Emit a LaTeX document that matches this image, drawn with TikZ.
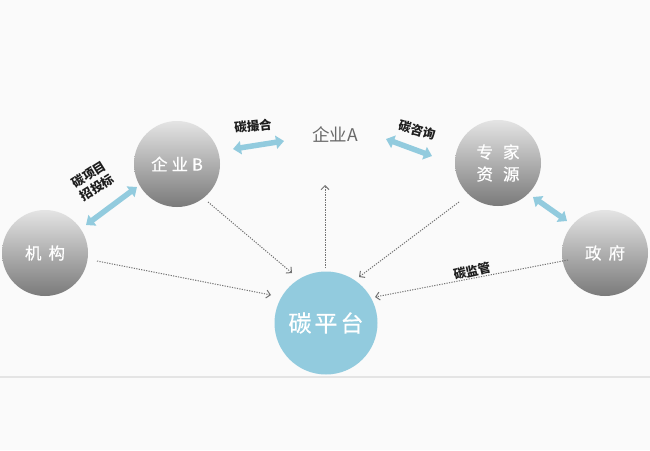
\documentclass[tikz,border=0pt]{standalone}
\usepackage{fontspec}
\setmainfont{Noto Sans CJK SC}
\newfontfamily\cjkm[FakeBold=0.6]{Noto Sans CJK SC}
\usetikzlibrary{calc,arrows.meta}
\definecolor{bgc}{RGB}{250,250,250}
\definecolor{sky}{RGB}{146,203,222}
\definecolor{gtop}{RGB}{228,228,228}
\definecolor{gbot}{RGB}{122,122,122}
\definecolor{dotc}{RGB}{115,115,115}
\definecolor{labc}{RGB}{30,30,30}
\definecolor{qac}{RGB}{105,105,105}
\definecolor{rule}{RGB}{228,228,228}
\tikzset{
  graycirc/.style={circle, minimum size=86pt, inner sep=0pt, top color=gtop, bottom color=gbot, draw=none, text=white, font=\cjkm\fontsize{16.5}{20}\selectfont},
  platcirc/.style={circle, minimum size=103pt, inner sep=0pt, fill=sky, text=white, font=\cjkm\fontsize{23}{27}\selectfont},
  bluearr/.style={draw=sky, line width=5.5pt, {Triangle[length=8pt,width=13pt]}-{Triangle[length=8pt,width=13pt]}},
  dotarr/.style={draw=dotc, line width=1pt, dash pattern=on 1.2pt off 1.3pt, -{Straight Barb[length=4pt,width=8pt]}},
  lab/.style={text=labc, font=\fontsize{12.5}{15.5}\selectfont\bfseries, inner sep=0pt, align=center}
}
\begin{document}
\begin{tikzpicture}[x=1pt,y=-1pt]
\fill[bgc] (0,0) rectangle (650,450);
\useasboundingbox (0,0) rectangle (650,450);
\draw[rule, line width=2pt] (0,377) -- (650,377);

\node[graycirc] (jg) at (45,253) {机\hspace{7pt}构};
\node[graycirc] (qb) at (177,164) {企\hspace{4pt}业\hspace{4pt}B};
\node[text=qac, font=\fontsize{17.5}{20}\selectfont, inner sep=1pt] (qa) at (335,135) {企业A};
\node[graycirc, align=center, font=\cjkm\fontsize{16.5}{22}\selectfont] (zj) at (498,163) {专\hspace{10pt}家\\资\hspace{10pt}源};
\node[graycirc] (zf) at (605,253) {政\hspace{7pt}府};
\node[platcirc] (pt) at (326,323) {碳\hspace{3pt}平\hspace{3pt}台};

\draw[bluearr] ($(jg)+(41,-28)$) -- ($(qb)+(-40,23)$);
\draw[bluearr] ($(qb)+(56,-15)$) -- ($(qa)+(-51,6)$);
\draw[bluearr] ($(qa)+(51,4)$) -- ($(zj)+(-66,-7)$);
\draw[bluearr] ($(zj)+(35,34)$) -- ($(zf)+(-38,-32)$);

\draw[dotarr] ($(qb)+(31,38)$) -- ($(pt)+(-34,-50)$);
\draw[dotarr] ($(jg)+(52,8)$) -- ($(pt)+(-55,-28)$);
\draw[dotarr] ($(pt)+(-1,-55)$) -- ($(qa)+(-10,50)$);
\draw[dotarr] ($(zj)+(-39,39)$) -- ($(pt)+(33,-46)$);
\draw[dotarr] ($(zf)+(-37,7)$) -- ($(pt)+(49,-26)$);

\node[lab, rotate=32] (l1) at (93,181) {碳项目\\招投标};
\node[lab, rotate=6] (l2) at (253,126) {碳撮合};
\node[lab, rotate=-15] (l3) at (417,130) {碳咨询};
\node[lab, rotate=13] (l4) at (472,271) {碳监管};
\end{tikzpicture}
\end{document}
